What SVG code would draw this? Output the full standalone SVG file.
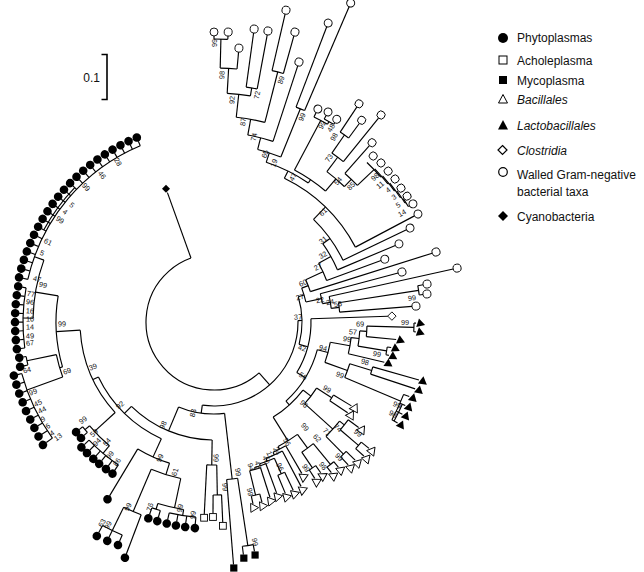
<svg xmlns="http://www.w3.org/2000/svg" width="644" height="572" viewBox="0 0 644 572">
<defs>
<style>
.c line,.c circle{fill:none;stroke:#000;stroke-width:1.15}
.l{font-family:"Liberation Sans",Arial,sans-serif;font-size:7.3px;text-anchor:middle;fill:#111}
.lg{font-family:"Liberation Sans",Arial,sans-serif;font-size:12px;fill:#111}
.it{font-style:italic}
</style>
<circle id="dot" r="4.3" fill="#000"/>
<circle id="oc" r="4" fill="#fff" stroke="#000" stroke-width="0.9"/>
<path id="ot" d="M0,-4.8L4.5,3.1L-4.5,3.1Z" fill="#fff" stroke="#000" stroke-width="0.9"/>
<path id="ft" d="M0,-4.8L4.5,3.1L-4.5,3.1Z" fill="#000"/>
<rect id="os" x="-3.4" y="-3.4" width="6.8" height="6.8" fill="#fff" stroke="#000" stroke-width="0.9"/>
<rect id="fs" x="-3.6" y="-3.6" width="7.2" height="7.2" fill="#000"/>
<path id="od" d="M0,-4.2L4.2,0L0,4.2L-4.2,0Z" fill="#fff" stroke="#000" stroke-width="0.9"/>
<path id="fd" d="M0,-4L4,0L0,4L-4,0Z" fill="#000"/>
</defs>
<rect width="644" height="572" fill="#fff"/>

<g id="connectors" class="c" transform="translate(214,322)">
<circle r="68" pathLength="360" stroke-dasharray="201.7 400" transform="rotate(48.5)"/>
<circle r="84" pathLength="360" stroke-dasharray="98.98 400" transform="rotate(-0.98)"/>
<circle r="92" pathLength="360" stroke-dasharray="29.25 400" transform="rotate(83.4)"/>
<circle r="158" pathLength="360" stroke-dasharray="4 400" transform="rotate(81.4)"/>
<circle r="226" pathLength="360" stroke-dasharray="2.8 400" transform="rotate(80)"/>
<circle r="118" pathLength="360" stroke-dasharray="43.5 400" transform="rotate(90.9)"/>
<circle r="143" pathLength="360" stroke-dasharray="4 400" transform="rotate(88.9)"/>
<circle r="173" pathLength="360" stroke-dasharray="2.8 400" transform="rotate(87.5)"/>
<circle r="128" pathLength="360" stroke-dasharray="40.25 400" transform="rotate(114.3)"/>
<circle r="148" pathLength="360" stroke-dasharray="13.5 400" transform="rotate(107.5)"/>
<circle r="160" pathLength="360" stroke-dasharray="11.1 400" transform="rotate(102)"/>
<circle r="190" pathLength="360" stroke-dasharray="8 400" transform="rotate(99.2)"/>
<circle r="196" pathLength="360" stroke-dasharray="2.6 400" transform="rotate(105.9)"/>
<circle r="196" pathLength="360" stroke-dasharray="7.9 400" transform="rotate(95.3)"/>
<circle r="206" pathLength="360" stroke-dasharray="5.3 400" transform="rotate(110.7)"/>
<circle r="232" pathLength="360" stroke-dasharray="5.4 400" transform="rotate(113.3)"/>
<circle r="134" pathLength="360" stroke-dasharray="39 400" transform="rotate(137.5)"/>
<circle r="162" pathLength="360" stroke-dasharray="9.95 400" transform="rotate(130.2)"/>
<circle r="168" pathLength="360" stroke-dasharray="2.5 400" transform="rotate(138.9)"/>
<circle r="172" pathLength="360" stroke-dasharray="12.8 400" transform="rotate(123.8)"/>
<circle r="158" pathLength="360" stroke-dasharray="26 400" transform="rotate(163.5)"/>
<circle r="161" pathLength="360" stroke-dasharray="8.3 400" transform="rotate(160)"/>
<circle r="191" pathLength="360" stroke-dasharray="2.6 400" transform="rotate(167)"/>
<circle r="199" pathLength="360" stroke-dasharray="20.7 400" transform="rotate(144.3)"/>
<circle r="181" pathLength="360" stroke-dasharray="18.8 400" transform="rotate(181.2)"/>
<circle r="191" pathLength="360" stroke-dasharray="18.13 400" transform="rotate(172.18)"/>
<circle r="191" pathLength="360" stroke-dasharray="54.39 400" transform="rotate(192.9)"/>
<circle r="193.5" pathLength="360" stroke-dasharray="15.54 400" transform="rotate(208.44)"/>
<circle r="88" pathLength="360" stroke-dasharray="31.45 400" transform="rotate(-16.7)"/>
<circle r="94" pathLength="360" stroke-dasharray="8.85 400" transform="rotate(-21.1)"/>
<circle r="101" pathLength="360" stroke-dasharray="7.25 400" transform="rotate(-24.75)"/>
<circle r="120" pathLength="360" stroke-dasharray="9.1 400" transform="rotate(-29.3)"/>
<circle r="134" pathLength="360" stroke-dasharray="12.85 400" transform="rotate(-35.75)"/>
<circle r="143" pathLength="360" stroke-dasharray="20.3 400" transform="rotate(-45.9)"/>
<circle r="160" pathLength="360" stroke-dasharray="36 400" transform="rotate(-63.9)"/>
<circle r="168" pathLength="360" stroke-dasharray="16.05 400" transform="rotate(-71.9)"/>
<circle r="178" pathLength="360" stroke-dasharray="7.85 400" transform="rotate(-75.8)"/>
<circle r="190" pathLength="360" stroke-dasharray="7.85 400" transform="rotate(-79.75)"/>
<circle r="206" pathLength="360" stroke-dasharray="8.1 400" transform="rotate(-83.8)"/>
<circle r="229" pathLength="360" stroke-dasharray="5.85 400" transform="rotate(-86.7)"/>
<circle r="254" pathLength="360" stroke-dasharray="3.8 400" transform="rotate(-88.6)"/>
<circle r="283" pathLength="360" stroke-dasharray="2.8 400" transform="rotate(-90)"/>
<circle r="237" pathLength="360" stroke-dasharray="2.7 400" transform="rotate(-82.2)"/>
<circle r="258" pathLength="360" stroke-dasharray="2.6 400" transform="rotate(-77)"/>
<circle r="230" pathLength="360" stroke-dasharray="2.3 400" transform="rotate(-69.1)"/>
<circle r="172" pathLength="360" stroke-dasharray="12.5 400" transform="rotate(-62.1)"/>
<circle r="228" pathLength="360" stroke-dasharray="3.85 400" transform="rotate(-64)"/>
<circle r="231" pathLength="360" stroke-dasharray="2.7 400" transform="rotate(-61.5)"/>
<circle r="188" pathLength="360" stroke-dasharray="7 400" transform="rotate(-53.1)"/>
<circle r="206" pathLength="360" stroke-dasharray="4 400" transform="rotate(-55.1)"/>
<circle r="228" pathLength="360" stroke-dasharray="2.6 400" transform="rotate(-56.4)"/>
<circle r="198" pathLength="360" stroke-dasharray="5 400" transform="rotate(-48.6)"/>
<circle r="221" pathLength="360" stroke-dasharray="5.2 400" transform="rotate(-46.2)"/>
<circle r="222" pathLength="360" stroke-dasharray="5.15 400" transform="rotate(-43.6)"/>
<circle r="223" pathLength="360" stroke-dasharray="4.9 400" transform="rotate(-40.9)"/>
<circle r="224" pathLength="360" stroke-dasharray="4.55 400" transform="rotate(-38.3)"/>
<circle r="225" pathLength="360" stroke-dasharray="3.7 400" transform="rotate(-35.6)"/>
<circle r="226" pathLength="360" stroke-dasharray="2.4 400" transform="rotate(-33.1)"/>
<circle r="110" pathLength="360" stroke-dasharray="5.3 400" transform="rotate(-14.9)"/>
<circle r="118" pathLength="360" stroke-dasharray="5.85 400" transform="rotate(-12.5)"/>
<circle r="126" pathLength="360" stroke-dasharray="4.3 400" transform="rotate(-8.8)"/>
<circle r="207" pathLength="360" stroke-dasharray="2.6 400" transform="rotate(-10.1)"/>
<circle r="97" pathLength="360" stroke-dasharray="33.3 400" transform="rotate(-1.9)"/>
<circle r="107" pathLength="360" stroke-dasharray="32.75 400" transform="rotate(15)"/>
<circle r="118" pathLength="360" stroke-dasharray="10.1 400" transform="rotate(9.9)"/>
<circle r="138" pathLength="360" stroke-dasharray="6.8 400" transform="rotate(6.5)"/>
<circle r="146" pathLength="360" stroke-dasharray="6 400" transform="rotate(3.5)"/>
<circle r="153" pathLength="360" stroke-dasharray="3.95 400" transform="rotate(1.55)"/>
<circle r="200" pathLength="360" stroke-dasharray="2.5 400" transform="rotate(0.3)"/>
<circle r="175" pathLength="360" stroke-dasharray="2.6 400" transform="rotate(8.2)"/>
<circle r="142" pathLength="360" stroke-dasharray="5.9 400" transform="rotate(17.1)"/>
<circle r="165" pathLength="360" stroke-dasharray="2.6 400" transform="rotate(15.8)"/>
<circle r="203" pathLength="360" stroke-dasharray="7.9 400" transform="rotate(20.9)"/>
<circle r="205.5" pathLength="360" stroke-dasharray="5.2 400" transform="rotate(23.6)"/>
<circle r="112" pathLength="360" stroke-dasharray="20.7 400" transform="rotate(37.4)"/>
<circle r="122" pathLength="360" stroke-dasharray="9.2 400" transform="rotate(32.8)"/>
<circle r="140" pathLength="360" stroke-dasharray="2.8 400" transform="rotate(31.4)"/>
<circle r="160" pathLength="360" stroke-dasharray="7.3 400" transform="rotate(38.3)"/>
<circle r="166" pathLength="360" stroke-dasharray="4.4 400" transform="rotate(36.1)"/>
<circle r="190" pathLength="360" stroke-dasharray="2.6 400" transform="rotate(39.2)"/>
<circle r="185" pathLength="360" stroke-dasharray="2.4 400" transform="rotate(44.4)"/>
<circle r="140" pathLength="360" stroke-dasharray="9.35 400" transform="rotate(53.4)"/>
<circle r="157" pathLength="360" stroke-dasharray="5.25 400" transform="rotate(50.75)"/>
<circle r="184" pathLength="360" stroke-dasharray="2.7 400" transform="rotate(49.4)"/>
<circle r="176" pathLength="360" stroke-dasharray="2.5 400" transform="rotate(54.7)"/>
<circle r="143" pathLength="360" stroke-dasharray="5.7 400" transform="rotate(59.9)"/>
<circle r="146" pathLength="360" stroke-dasharray="7 400" transform="rotate(62.1)"/>
<circle r="149" pathLength="360" stroke-dasharray="6.05 400" transform="rotate(66.1)"/>
<circle r="166" pathLength="360" stroke-dasharray="2.6 400" transform="rotate(64.8)"/>
<circle r="151" pathLength="360" stroke-dasharray="4.5 400" transform="rotate(69.9)"/>
<circle r="153" pathLength="360" stroke-dasharray="4.2 400" transform="rotate(72.3)"/>
<circle r="178" pathLength="360" stroke-dasharray="2.8 400" transform="rotate(75.1)"/>

<line x1="68" x2="137.5" transform="rotate(250.2)"/>
<line x1="68" x2="84" transform="rotate(48.5)"/>
<line x1="84" x2="88" transform="rotate(-0.98)"/>
<line x1="84" x2="92" transform="rotate(98)"/>
<line x1="92" x2="158" transform="rotate(83.4)"/>
<line x1="158" x2="243.3" transform="rotate(85.4)"/>
<line x1="158" x2="226" transform="rotate(81.4)"/>
<line x1="226" x2="234.5" transform="rotate(82.8)"/>
<line x1="226" x2="233" transform="rotate(80)"/>
<line x1="92" x2="118" transform="rotate(112.65)"/>
<line x1="118" x2="143" transform="rotate(90.9)"/>
<line x1="143" x2="192.5" transform="rotate(92.9)"/>
<line x1="143" x2="173" transform="rotate(88.9)"/>
<line x1="173" x2="191.5" transform="rotate(90.3)"/>
<line x1="173" x2="200.5" transform="rotate(87.5)"/>
<line x1="118" x2="128" transform="rotate(134.4)"/>
<line x1="128" x2="148" transform="rotate(114.3)"/>
<line x1="128" x2="134" transform="rotate(154.55)"/>
<line x1="148" x2="160" transform="rotate(107.5)"/>
<line x1="148" x2="202.8" transform="rotate(121)"/>
<line x1="160" x2="190" transform="rotate(102)"/>
<line x1="160" x2="206" transform="rotate(113.1)"/>
<line x1="190" x2="196" transform="rotate(107.2)"/>
<line x1="190" x2="196" transform="rotate(99.2)"/>
<line x1="196" x2="203" transform="rotate(108.5)"/>
<line x1="196" x2="203" transform="rotate(105.9)"/>
<line x1="196" x2="203" transform="rotate(103.2)"/>
<line x1="196" x2="203" transform="rotate(100.6)"/>
<line x1="196" x2="203" transform="rotate(98)"/>
<line x1="196" x2="203" transform="rotate(95.3)"/>
<line x1="206" x2="248" transform="rotate(110.7)"/>
<line x1="206" x2="232" transform="rotate(116)"/>
<line x1="232" x2="238.8" transform="rotate(113.3)"/>
<line x1="232" x2="239.5" transform="rotate(116)"/>
<line x1="232" x2="240" transform="rotate(118.7)"/>
<line x1="134" x2="162" transform="rotate(137.5)"/>
<line x1="134" x2="158" transform="rotate(176.5)"/>
<line x1="162" x2="168" transform="rotate(140.15)"/>
<line x1="162" x2="172" transform="rotate(130.2)"/>
<line x1="168" x2="172.5" transform="rotate(138.9)"/>
<line x1="168" x2="172.5" transform="rotate(141.4)"/>
<line x1="172" x2="178.5" transform="rotate(123.8)"/>
<line x1="172" x2="178.5" transform="rotate(126.3)"/>
<line x1="172" x2="178.5" transform="rotate(129)"/>
<line x1="172" x2="178.5" transform="rotate(131.4)"/>
<line x1="172" x2="178.5" transform="rotate(134.1)"/>
<line x1="172" x2="178.5" transform="rotate(136.6)"/>
<line x1="158" x2="161" transform="rotate(163.5)"/>
<line x1="158" x2="181" transform="rotate(189.5)"/>
<line x1="161" x2="199" transform="rotate(160)"/>
<line x1="161" x2="191" transform="rotate(168.3)"/>
<line x1="191" x2="195" transform="rotate(167)"/>
<line x1="191" x2="194" transform="rotate(169.6)"/>
<line x1="199" x2="206.5" transform="rotate(144.3)"/>
<line x1="199" x2="205.5" transform="rotate(146.89)"/>
<line x1="199" x2="204.5" transform="rotate(149.48)"/>
<line x1="199" x2="204" transform="rotate(152.06)"/>
<line x1="199" x2="204" transform="rotate(154.65)"/>
<line x1="199" x2="203.5" transform="rotate(157.24)"/>
<line x1="199" x2="203.5" transform="rotate(159.83)"/>
<line x1="199" x2="203.3" transform="rotate(162.41)"/>
<line x1="199" x2="203.2" transform="rotate(165)"/>
<line x1="181" x2="191" transform="rotate(181.2)"/>
<line x1="181" x2="191" transform="rotate(200)"/>
<line x1="191" x2="195" transform="rotate(172.18)"/>
<line x1="191" x2="195" transform="rotate(174.77)"/>
<line x1="191" x2="195" transform="rotate(177.36)"/>
<line x1="191" x2="195" transform="rotate(179.95)"/>
<line x1="191" x2="195" transform="rotate(182.54)"/>
<line x1="191" x2="195" transform="rotate(185.13)"/>
<line x1="191" x2="195" transform="rotate(187.72)"/>
<line x1="191" x2="195" transform="rotate(190.31)"/>
<line x1="191" x2="196" transform="rotate(192.9)"/>
<line x1="191" x2="196" transform="rotate(195.49)"/>
<line x1="191" x2="196" transform="rotate(198.08)"/>
<line x1="191" x2="196" transform="rotate(200.67)"/>
<line x1="191" x2="196" transform="rotate(203.26)"/>
<line x1="191" x2="196" transform="rotate(205.85)"/>
<line x1="191" x2="196" transform="rotate(208.44)"/>
<line x1="191" x2="196" transform="rotate(211.03)"/>
<line x1="191" x2="196" transform="rotate(213.62)"/>
<line x1="191" x2="196" transform="rotate(216.21)"/>
<line x1="191" x2="196" transform="rotate(218.8)"/>
<line x1="191" x2="196" transform="rotate(221.39)"/>
<line x1="191" x2="196" transform="rotate(223.98)"/>
<line x1="191" x2="196" transform="rotate(226.57)"/>
<line x1="191" x2="196" transform="rotate(229.16)"/>
<line x1="191" x2="196" transform="rotate(231.75)"/>
<line x1="191" x2="196" transform="rotate(234.34)"/>
<line x1="191" x2="196" transform="rotate(236.93)"/>
<line x1="191" x2="196" transform="rotate(239.52)"/>
<line x1="191" x2="196" transform="rotate(242.11)"/>
<line x1="191" x2="196" transform="rotate(244.7)"/>
<line x1="191" x2="196" transform="rotate(247.29)"/>

<line x1="88" x2="94" transform="rotate(-16.7)"/>
<line x1="88" x2="97" transform="rotate(14.75)"/>
<line x1="94" x2="101" transform="rotate(-21.1)"/>
<line x1="94" x2="110" transform="rotate(-12.25)"/>
<line x1="101" x2="120" transform="rotate(-24.75)"/>
<line x1="101" x2="228.8" transform="rotate(-17.5)"/>
<line x1="120" x2="134" transform="rotate(-29.3)"/>
<line x1="120" x2="178" transform="rotate(-20.2)"/>
<line x1="134" x2="143" transform="rotate(-35.75)"/>
<line x1="134" x2="196.8" transform="rotate(-22.9)"/>
<line x1="143" x2="160" transform="rotate(-45.9)"/>
<line x1="143" x2="213.4" transform="rotate(-25.6)"/>
<line x1="160" x2="168" transform="rotate(-63.9)"/>
<line x1="160" x2="226.8" transform="rotate(-27.9)"/>
<line x1="168" x2="178" transform="rotate(-71.9)"/>
<line x1="168" x2="172" transform="rotate(-55.85)"/>
<line x1="178" x2="190" transform="rotate(-75.8)"/>
<line x1="178" x2="230" transform="rotate(-67.95)"/>
<line x1="190" x2="206" transform="rotate(-79.75)"/>
<line x1="190" x2="269.5" transform="rotate(-71.9)"/>
<line x1="206" x2="229" transform="rotate(-83.8)"/>
<line x1="206" x2="258" transform="rotate(-75.7)"/>
<line x1="229" x2="254" transform="rotate(-86.7)"/>
<line x1="229" x2="237" transform="rotate(-80.85)"/>
<line x1="254" x2="283" transform="rotate(-88.6)"/>
<line x1="254" x2="271" transform="rotate(-84.8)"/>
<line x1="283" x2="286" transform="rotate(-90)"/>
<line x1="283" x2="286.3" transform="rotate(-87.2)"/>
<line x1="237" x2="291.7" transform="rotate(-82.2)"/>
<line x1="237" x2="292" transform="rotate(-79.5)"/>
<line x1="258" x2="316" transform="rotate(-77)"/>
<line x1="258" x2="297" transform="rotate(-74.4)"/>
<line x1="230" x2="316" transform="rotate(-69.1)"/>
<line x1="230" x2="343" transform="rotate(-66.8)"/>
<line x1="172" x2="228" transform="rotate(-62.1)"/>
<line x1="172" x2="188" transform="rotate(-49.6)"/>
<line x1="228" x2="233" transform="rotate(-64)"/>
<line x1="228" x2="231" transform="rotate(-60.15)"/>
<line x1="231" x2="235" transform="rotate(-61.5)"/>
<line x1="231" x2="233" transform="rotate(-58.8)"/>
<line x1="188" x2="206" transform="rotate(-53.1)"/>
<line x1="188" x2="198" transform="rotate(-46.1)"/>
<line x1="206" x2="228" transform="rotate(-55.1)"/>
<line x1="206" x2="262" transform="rotate(-51.1)"/>
<line x1="228" x2="258" transform="rotate(-56.4)"/>
<line x1="228" x2="246" transform="rotate(-53.8)"/>
<line x1="198" x2="235" transform="rotate(-48.6)"/>
<line x1="198" x2="221" transform="rotate(-43.6)"/>
<line x1="221" x2="222" transform="rotate(-41)"/>
<line x1="222" x2="223" transform="rotate(-38.45)"/>
<line x1="223" x2="224" transform="rotate(-36)"/>
<line x1="224" x2="225" transform="rotate(-33.75)"/>
<line x1="225" x2="226" transform="rotate(-31.9)"/>
<line x1="226" x2="227.4" transform="rotate(-30.7)"/>
<line x1="110" x2="190.5" transform="rotate(-14.9)"/>
<line x1="110" x2="118" transform="rotate(-9.6)"/>
<line x1="118" x2="245" transform="rotate(-12.5)"/>
<line x1="118" x2="126" transform="rotate(-6.65)"/>
<line x1="126" x2="207" transform="rotate(-8.8)"/>
<line x1="126" x2="198.6" transform="rotate(-4.5)"/>
<line x1="207" x2="212.4" transform="rotate(-10.1)"/>
<line x1="207" x2="210.8" transform="rotate(-7.5)"/>

<line x1="97" x2="174" transform="rotate(-1.9)"/>
<line x1="97" x2="107" transform="rotate(31.4)"/>
<line x1="107" x2="118" transform="rotate(15)"/>
<line x1="107" x2="112" transform="rotate(47.75)"/>
<line x1="118" x2="138" transform="rotate(9.9)"/>
<line x1="118" x2="142" transform="rotate(20)"/>
<line x1="138" x2="146" transform="rotate(6.5)"/>
<line x1="138" x2="175" transform="rotate(13.3)"/>
<line x1="146" x2="153" transform="rotate(3.5)"/>
<line x1="146" x2="175" transform="rotate(9.5)"/>
<line x1="153" x2="200" transform="rotate(1.55)"/>
<line x1="153" x2="183" transform="rotate(5.5)"/>
<line x1="200" x2="202" transform="rotate(0.3)"/>
<line x1="200" x2="202" transform="rotate(2.8)"/>
<line x1="175" x2="179" transform="rotate(8.2)"/>
<line x1="175" x2="178" transform="rotate(10.8)"/>
<line x1="142" x2="165" transform="rotate(17.1)"/>
<line x1="142" x2="203" transform="rotate(23)"/>
<line x1="165" x2="213" transform="rotate(15.8)"/>
<line x1="165" x2="212" transform="rotate(18.4)"/>
<line x1="203" x2="209" transform="rotate(20.9)"/>
<line x1="203" x2="208.7" transform="rotate(23.6)"/>
<line x1="203" x2="209.8" transform="rotate(26.1)"/>
<line x1="203" x2="209.5" transform="rotate(28.8)"/>
<line x1="112" x2="122" transform="rotate(37.4)"/>
<line x1="112" x2="140" transform="rotate(58.1)"/>
<line x1="122" x2="140" transform="rotate(32.8)"/>
<line x1="122" x2="160" transform="rotate(42)"/>
<line x1="140" x2="161" transform="rotate(31.4)"/>
<line x1="140" x2="161.6" transform="rotate(34.2)"/>
<line x1="160" x2="166" transform="rotate(38.3)"/>
<line x1="160" x2="185" transform="rotate(45.6)"/>
<line x1="166" x2="179" transform="rotate(36.1)"/>
<line x1="166" x2="190" transform="rotate(40.5)"/>
<line x1="190" x2="200" transform="rotate(39.2)"/>
<line x1="190" x2="201" transform="rotate(41.8)"/>
<line x1="185" x2="197.5" transform="rotate(44.4)"/>
<line x1="185" x2="196" transform="rotate(46.8)"/>
<line x1="140" x2="157" transform="rotate(53.4)"/>
<line x1="140" x2="143" transform="rotate(62.75)"/>
<line x1="157" x2="184" transform="rotate(50.75)"/>
<line x1="157" x2="176" transform="rotate(56)"/>
<line x1="184" x2="191" transform="rotate(49.4)"/>
<line x1="184" x2="191" transform="rotate(52.1)"/>
<line x1="176" x2="184.7" transform="rotate(54.7)"/>
<line x1="176" x2="186" transform="rotate(57.2)"/>
<line x1="143" x2="175" transform="rotate(59.9)"/>
<line x1="143" x2="146" transform="rotate(65.6)"/>
<line x1="146" x2="186" transform="rotate(62.1)"/>
<line x1="146" x2="149" transform="rotate(69.1)"/>
<line x1="149" x2="166" transform="rotate(66.1)"/>
<line x1="149" x2="151" transform="rotate(72.15)"/>
<line x1="166" x2="186" transform="rotate(64.8)"/>
<line x1="166" x2="185.6" transform="rotate(67.4)"/>
<line x1="151" x2="182" transform="rotate(69.9)"/>
<line x1="151" x2="153" transform="rotate(74.4)"/>
<line x1="153" x2="184" transform="rotate(72.3)"/>
<line x1="153" x2="178" transform="rotate(76.5)"/>
<line x1="178" x2="186.4" transform="rotate(75.1)"/>
<line x1="178" x2="186" transform="rotate(77.9)"/>
</g>

<g id="leaves" transform="translate(214,322)">
<g id="cyanobacteria"><use id="cy1" href="#fd" transform="rotate(250.2) translate(141.7) rotate(-250.2)"/></g>
<g id="gram-negative">
<use id="g1" href="#oc" transform="rotate(-90) translate(290)"/>
<use id="g2" href="#oc" transform="rotate(-87.2) translate(290.3)"/>
<use id="g3" href="#oc" transform="rotate(-84.8) translate(275)"/>
<use id="g4" href="#oc" transform="rotate(-82.2) translate(295.7)"/>
<use id="g5" href="#oc" transform="rotate(-79.5) translate(296)"/>
<use id="g6" href="#oc" transform="rotate(-77) translate(320)"/>
<use id="g7" href="#oc" transform="rotate(-74.4) translate(301)"/>
<use id="g8" href="#oc" transform="rotate(-71.9) translate(273.5)"/>
<use id="g9" href="#oc" transform="rotate(-69.1) translate(320)"/>
<use id="g10" href="#oc" transform="rotate(-66.8) translate(347)"/>
<use id="g11" href="#oc" transform="rotate(-64) translate(237)"/>
<use id="g12" href="#oc" transform="rotate(-61.5) translate(239)"/>
<use id="g13" href="#oc" transform="rotate(-58.8) translate(237)"/>
<use id="g14" href="#oc" transform="rotate(-56.4) translate(262)"/>
<use id="g15" href="#oc" transform="rotate(-53.8) translate(250)"/>
<use id="g16" href="#oc" transform="rotate(-51.1) translate(266)"/>
<use id="g17" href="#oc" transform="rotate(-48.6) translate(239)"/>
<use id="g18" href="#oc" transform="rotate(-46.2) translate(230)"/>
<use id="g19" href="#oc" transform="rotate(-43.6) translate(230.6)"/>
<use id="g20" href="#oc" transform="rotate(-40.9) translate(230.4)"/>
<use id="g21" href="#oc" transform="rotate(-38.3) translate(230.7)"/>
<use id="g22" href="#oc" transform="rotate(-35.6) translate(230)"/>
<use id="g23" href="#oc" transform="rotate(-33.1) translate(230.5)"/>
<use id="g24" href="#oc" transform="rotate(-30.7) translate(231.4)"/>
<use id="g25" href="#oc" transform="rotate(-27.9) translate(230.8)"/>
<use id="g26" href="#oc" transform="rotate(-25.6) translate(217.4)"/>
<use id="g27" href="#oc" transform="rotate(-22.9) translate(200.8)"/>
<use id="g28" href="#oc" transform="rotate(-20.2) translate(182)"/>
<use id="g29" href="#oc" transform="rotate(-17.5) translate(232.8)"/>
<use id="g30" href="#oc" transform="rotate(-14.9) translate(194.5)"/>
<use id="g31" href="#oc" transform="rotate(-12.5) translate(249)"/>
<use id="g32" href="#oc" transform="rotate(-10.1) translate(216.4)"/>
<use id="g33" href="#oc" transform="rotate(-7.5) translate(214.8)"/>
<use id="g34" href="#oc" transform="rotate(-4.5) translate(202.6)"/>
</g>
<g id="clostridia"><use id="cl1" href="#od" transform="rotate(-1.9) translate(178) rotate(1.9)"/></g>
<g id="lactobacillales">
<use id="l1" href="#ft" transform="rotate(0.3) translate(206) rotate(-12.9)"/>
<use id="l2" href="#ft" transform="rotate(2.8) translate(206) rotate(-12.2)"/>
<use id="l3" href="#ft" transform="rotate(5.5) translate(187) rotate(-11.4)"/>
<use id="l4" href="#ft" transform="rotate(8.2) translate(183) rotate(-10.5)"/>
<use id="l5" href="#ft" transform="rotate(10.8) translate(182) rotate(-9.8)"/>
<use id="l6" href="#ft" transform="rotate(13.3) translate(179) rotate(-9)"/>
<use id="l7" href="#ft" transform="rotate(15.8) translate(217) rotate(-8.3)"/>
<use id="l8" href="#ft" transform="rotate(18.4) translate(216) rotate(-7.5)"/>
<use id="l9" href="#ft" transform="rotate(20.9) translate(213) rotate(-6.7)"/>
<use id="l10" href="#ft" transform="rotate(23.6) translate(212.7) rotate(-5.9)"/>
<use id="l11" href="#ft" transform="rotate(26.1) translate(213.8) rotate(-5.2)"/>
<use id="l12" href="#ft" transform="rotate(28.8) translate(213.5) rotate(-4.4)"/>
</g>
<g id="bacillales">
<use id="b19" href="#ot" transform="rotate(31.4) translate(165) rotate(-3.6)"/>
<use id="b18" href="#ot" transform="rotate(34.2) translate(165.6) rotate(-2.7)"/>
<use id="b17" href="#ot" transform="rotate(36.1) translate(183) rotate(-2.2)"/>
<use id="b16" href="#ot" transform="rotate(39.2) translate(204) rotate(-1.2)"/>
<use id="b15" href="#ot" transform="rotate(41.8) translate(205) rotate(-0.5)"/>
<use id="b14" href="#ot" transform="rotate(44.4) translate(201.5) rotate(0.3)"/>
<use id="b13" href="#ot" transform="rotate(46.8) translate(200) rotate(1)"/>
<use id="b12" href="#ot" transform="rotate(49.4) translate(195) rotate(1.8)"/>
<use id="b11" href="#ot" transform="rotate(52.1) translate(195) rotate(2.6)"/>
<use id="b10" href="#ot" transform="rotate(54.7) translate(188.7) rotate(3.4)"/>
<use id="b9" href="#ot" transform="rotate(57.2) translate(190) rotate(4.2)"/>
<use id="b8" href="#ot" transform="rotate(59.9) translate(179) rotate(5)"/>
<use id="b7" href="#ot" transform="rotate(62.1) translate(190) rotate(5.6)"/>
<use id="b6" href="#ot" transform="rotate(64.8) translate(190) rotate(6.4)"/>
<use id="b5" href="#ot" transform="rotate(67.4) translate(189.6) rotate(7.2)"/>
<use id="b4" href="#ot" transform="rotate(69.9) translate(186) rotate(8)"/>
<use id="b3" href="#ot" transform="rotate(72.3) translate(188) rotate(8.7)"/>
<use id="b2" href="#ot" transform="rotate(75.1) translate(190.4) rotate(9.5)"/>
<use id="b1" href="#ot" transform="rotate(77.9) translate(190) rotate(10.4)"/>
</g>
<g id="mycoplasma">
<use id="m3" href="#fs" transform="rotate(80) translate(236.6) rotate(-80)"/>
<use id="m2" href="#fs" transform="rotate(82.8) translate(238) rotate(-82.8)"/>
<use id="m1" href="#fs" transform="rotate(85.4) translate(246.8) rotate(-85.4)"/>
</g>
<g id="acholeplasma">
<use id="a3" href="#os" transform="rotate(87.5) translate(204) rotate(-87.5)"/>
<use id="a2" href="#os" transform="rotate(90.3) translate(195) rotate(-90.3)"/>
<use id="a1" href="#os" transform="rotate(92.9) translate(196) rotate(-92.9)"/>
</g>
<g id="phytoplasmas">
<use href="#dot" transform="rotate(95.3) translate(207)"/>
<use href="#dot" transform="rotate(98) translate(207)"/>
<use href="#dot" transform="rotate(100.6) translate(207)"/>
<use href="#dot" transform="rotate(103.2) translate(207)"/>
<use href="#dot" transform="rotate(105.9) translate(207)"/>
<use href="#dot" transform="rotate(108.5) translate(207)"/>
<use href="#dot" transform="rotate(110.7) translate(252)"/>
<use href="#dot" transform="rotate(113.3) translate(242.8)"/>
<use href="#dot" transform="rotate(116) translate(243.5)"/>
<use href="#dot" transform="rotate(118.7) translate(244)"/>
<use href="#dot" transform="rotate(121) translate(206.8)"/>
<use href="#dot" transform="rotate(123.8) translate(182.5)"/>
<use href="#dot" transform="rotate(126.3) translate(182.5)"/>
<use href="#dot" transform="rotate(129) translate(182.5)"/>
<use href="#dot" transform="rotate(131.4) translate(182.5)"/>
<use href="#dot" transform="rotate(134.1) translate(182.5)"/>
<use href="#dot" transform="rotate(136.6) translate(182.5)"/>
<use href="#dot" transform="rotate(138.9) translate(176.5)"/>
<use href="#dot" transform="rotate(141.4) translate(176.5)"/>
<use href="#dot" transform="rotate(144.3) translate(210.6)"/>
<use href="#dot" transform="rotate(146.89) translate(209.5)"/>
<use href="#dot" transform="rotate(149.48) translate(208.5)"/>
<use href="#dot" transform="rotate(152.06) translate(208)"/>
<use href="#dot" transform="rotate(154.65) translate(208)"/>
<use href="#dot" transform="rotate(157.24) translate(207.5)"/>
<use href="#dot" transform="rotate(159.83) translate(207.5)"/>
<use href="#dot" transform="rotate(162.41) translate(207.3)"/>
<use href="#dot" transform="rotate(165) translate(207.2)"/>
<use href="#dot" transform="rotate(167) translate(199)"/>
<use href="#dot" transform="rotate(169.6) translate(198)"/>
<use href="#dot" transform="rotate(172.18) translate(199)"/>
<use href="#dot" transform="rotate(174.77) translate(199)"/>
<use href="#dot" transform="rotate(177.36) translate(199)"/>
<use href="#dot" transform="rotate(179.95) translate(199)"/>
<use href="#dot" transform="rotate(182.54) translate(199)"/>
<use href="#dot" transform="rotate(185.13) translate(199)"/>
<use href="#dot" transform="rotate(187.72) translate(199)"/>
<use href="#dot" transform="rotate(190.31) translate(199)"/>
<use href="#dot" transform="rotate(192.9) translate(200)"/>
<use href="#dot" transform="rotate(195.49) translate(200)"/>
<use href="#dot" transform="rotate(198.08) translate(200)"/>
<use href="#dot" transform="rotate(200.67) translate(200)"/>
<use href="#dot" transform="rotate(203.26) translate(200)"/>
<use href="#dot" transform="rotate(205.85) translate(200)"/>
<use href="#dot" transform="rotate(208.44) translate(200)"/>
<use href="#dot" transform="rotate(211.03) translate(200)"/>
<use href="#dot" transform="rotate(213.62) translate(200)"/>
<use href="#dot" transform="rotate(216.21) translate(200)"/>
<use href="#dot" transform="rotate(218.8) translate(200)"/>
<use href="#dot" transform="rotate(221.39) translate(200)"/>
<use href="#dot" transform="rotate(223.98) translate(200)"/>
<use href="#dot" transform="rotate(226.57) translate(200)"/>
<use href="#dot" transform="rotate(229.16) translate(200)"/>
<use href="#dot" transform="rotate(231.75) translate(200)"/>
<use href="#dot" transform="rotate(234.34) translate(200)"/>
<use href="#dot" transform="rotate(236.93) translate(200)"/>
<use href="#dot" transform="rotate(239.52) translate(200)"/>
<use href="#dot" transform="rotate(242.11) translate(200)"/>
<use href="#dot" transform="rotate(244.7) translate(200)"/>
<use href="#dot" transform="rotate(247.29) translate(200)"/>
</g>
</g>

<g id="bootstrap-labels" class="l">
<text transform="translate(214,43) rotate(-90)" dy="2.5">99</text>
<text transform="translate(222,75) rotate(-88)" dy="2.5">98</text>
<text transform="translate(232,100) rotate(-85)" dy="2.5">92</text>
<text transform="translate(257,95) rotate(-79)" dy="2.5">72</text>
<text transform="translate(243,122) rotate(-82)" dy="2.5">87</text>
<text transform="translate(254,137) rotate(-78)" dy="2.5">74</text>
<text transform="translate(265,154) rotate(-73)" dy="2.5">65</text>
<text transform="translate(274,163) rotate(-69)" dy="2.5">19</text>
<text transform="translate(281,80) rotate(-74.5)" dy="2.5">89</text>
<text transform="translate(302,117) rotate(-67)" dy="2.5">99</text>
<text transform="translate(293,177) rotate(-61)" dy="2.5">47</text>
<text transform="translate(322,125) rotate(-61)" dy="2.5">99</text>
<text transform="translate(331,128) rotate(-59)" dy="2.5">48</text>
<text transform="translate(334,137) rotate(-57)" dy="2.5">98</text>
<text transform="translate(329,158) rotate(-55)" dy="2.5">73</text>
<text transform="translate(338,181) rotate(-49)" dy="2.5">54</text>
<text transform="translate(351,186) rotate(-45)" dy="2.5">85</text>
<text transform="translate(375,177) rotate(-42)" dy="2.5">98</text>
<text transform="translate(380,185) rotate(-39.5)" dy="2.5">11</text>
<text transform="translate(388,190) rotate(-37)" dy="2.5">4</text>
<text transform="translate(394,197) rotate(-35)" dy="2.5">3</text>
<text transform="translate(398,205) rotate(-32.5)" dy="2.5">5</text>
<text transform="translate(402,213) rotate(-30)" dy="2.5">14</text>
<text transform="translate(323,212) rotate(-45)" dy="2.5">61</text>
<text transform="translate(323,240) rotate(-37)" dy="2.5">31</text>
<text transform="translate(323,255) rotate(-31.6)" dy="2.5">32</text>
<text transform="translate(318,267) rotate(-28)" dy="2.5">27</text>
<text transform="translate(303,283) rotate(-24)" dy="2.5">60</text>
<text transform="translate(300,297) rotate(-16)" dy="2.5">27</text>
<text transform="translate(320,300) rotate(-12)" dy="2.5">22</text>
<text transform="translate(330,302) rotate(-10)" dy="2.5">24</text>
<text transform="translate(338,304) rotate(-8)" dy="2.5">55</text>
<text transform="translate(412,298) rotate(-7)" dy="2.5">99</text>
<text transform="translate(298,317) rotate(-3)" dy="2.5">37</text>
<text transform="translate(302,348) rotate(16.5)" dy="2.5">42</text>
<text transform="translate(303,376) rotate(31)" dy="2.5">56</text>
<text transform="translate(323,348) rotate(13)" dy="2.5">94</text>
<text transform="translate(360,324) rotate(1)" dy="2.5">69</text>
<text transform="translate(353,332) rotate(4)" dy="2.5">57</text>
<text transform="translate(347,339) rotate(7)" dy="2.5">99</text>
<text transform="translate(377,354) rotate(11)" dy="2.5">99</text>
<text transform="translate(365,362) rotate(15)" dy="2.5">98</text>
<text transform="translate(405,322) rotate(0)" dy="2.5">99</text>
<text transform="translate(340,375) rotate(23)" dy="2.5">99</text>
<text transform="translate(397,405) rotate(25)" dy="2.5">99</text>
<text transform="translate(393,414) rotate(27.6)" dy="2.5">98</text>
<text transform="translate(327,389) rotate(31)" dy="2.5">99</text>
<text transform="translate(304,404) rotate(42)" dy="2.5">96</text>
<text transform="translate(305,427) rotate(49)" dy="2.5">99</text>
<text transform="translate(338,428) rotate(40.5)" dy="2.5">74</text>
<text transform="translate(327,432) rotate(44)" dy="2.5">71</text>
<text transform="translate(358,433) rotate(37.6)" dy="2.5">99</text>
<text transform="translate(317,438) rotate(48)" dy="2.5">62</text>
<text transform="translate(287,442) rotate(59)" dy="2.5">56</text>
<text transform="translate(277,451) rotate(64)" dy="2.5">24</text>
<text transform="translate(270,455) rotate(67)" dy="2.5">11</text>
<text transform="translate(339,457) rotate(47)" dy="2.5">99</text>
<text transform="translate(323,466) rotate(53)" dy="2.5">98</text>
<text transform="translate(306,468) rotate(58)" dy="2.5">99</text>
<text transform="translate(280,467) rotate(65.5)" dy="2.5">96</text>
<text transform="translate(266,460) rotate(69)" dy="2.5">40</text>
<text transform="translate(258,465) rotate(73)" dy="2.5">42</text>
<text transform="translate(251,467) rotate(76)" dy="2.5">94</text>
<text transform="translate(250,492) rotate(78)" dy="2.5">99</text>
<text transform="translate(238,472) rotate(81)" dy="2.5">99</text>
<text transform="translate(255,542) rotate(79)" dy="2.5">99</text>
<text transform="translate(216,458) rotate(89)" dy="2.5">99</text>
<text transform="translate(225,487) rotate(86)" dy="2.5">99</text>
<text transform="translate(193,413) rotate(-77)" dy="2.5">83</text>
<text transform="translate(163,425) rotate(-64)" dy="2.5">98</text>
<text transform="translate(160,458) rotate(-68)" dy="2.5">99</text>
<text transform="translate(175,472) rotate(-75)" dy="2.5">61</text>
<text transform="translate(128,507) rotate(-65)" dy="2.5">99</text>
<text transform="translate(102,523) rotate(-61)" dy="2.5">63</text>
<text transform="translate(108,525) rotate(-62)" dy="2.5">99</text>
<text transform="translate(150,507) rotate(-71)" dy="2.5">76</text>
<text transform="translate(180,508) rotate(-80)" dy="2.5">99</text>
<text transform="translate(193,515) rotate(-84)" dy="2.5">99</text>
<text transform="translate(120,405) rotate(-41)" dy="2.5">92</text>
<text transform="translate(93,367) rotate(-20)" dy="2.5">39</text>
<text transform="translate(62,324) rotate(-1)" dy="2.5">99</text>
<text transform="translate(67,371) rotate(-18)" dy="2.5">69</text>
<text transform="translate(83,420) rotate(-37)" dy="2.5">99</text>
<text transform="translate(94,433) rotate(-43)" dy="2.5">59</text>
<text transform="translate(97,442) rotate(-46)" dy="2.5">94</text>
<text transform="translate(107,442) rotate(-48)" dy="2.5">54</text>
<text transform="translate(110,455) rotate(-52)" dy="2.5">99</text>
<text transform="translate(117,462) rotate(-55)" dy="2.5">86</text>
<text transform="translate(27,370) rotate(-14)" dy="2.5">64</text>
<text transform="translate(33,392) rotate(-21)" dy="2.5">99</text>
<text transform="translate(38,403) rotate(-25)" dy="2.5">45</text>
<text transform="translate(42,410) rotate(-27)" dy="2.5">44</text>
<text transform="translate(43,419) rotate(-30)" dy="2.5">9</text>
<text transform="translate(48,426) rotate(-32)" dy="2.5">6</text>
<text transform="translate(52,433) rotate(-34)" dy="2.5">4</text>
<text transform="translate(58,437) rotate(-36)" dy="2.5">13</text>
<text transform="translate(37,279) rotate(14)" dy="2.5">47</text>
<text transform="translate(43,285) rotate(12)" dy="2.5">99</text>
<text transform="translate(31,294) rotate(9)" dy="2.5">77</text>
<text transform="translate(30,302) rotate(6)" dy="2.5">96</text>
<text transform="translate(30,311) rotate(3)" dy="2.5">16</text>
<text transform="translate(30,319) rotate(1)" dy="2.5">10</text>
<text transform="translate(30,327) rotate(-1.5)" dy="2.5">14</text>
<text transform="translate(30,336) rotate(-4)" dy="2.5">49</text>
<text transform="translate(30,343) rotate(-6.5)" dy="2.5">67</text>
<text transform="translate(118,162) rotate(59)" dy="2.5">28</text>
<text transform="translate(102,175) rotate(53)" dy="2.5">46</text>
<text transform="translate(86,187) rotate(46.5)" dy="2.5">99</text>
<text transform="translate(72,205) rotate(39.5)" dy="2.5">5</text>
<text transform="translate(65,212) rotate(36)" dy="2.5">4</text>
<text transform="translate(60,220) rotate(33.5)" dy="2.5">99</text>
<text transform="translate(48,242) rotate(26)" dy="2.5">61</text>
<text transform="translate(42,253) rotate(22)" dy="2.5">5</text>
</g>

<g id="scale-bar">
<path d="M101.5,54.5H107V99.5H101.5" fill="none" stroke="#000" stroke-width="1.6"/>
<text class="lg" x="100" y="81.5" text-anchor="end">0.1</text>
</g>

<g id="legend">
<g id="leg-phyto"><circle cx="503" cy="38" r="5" fill="#000"/><text class="lg" x="517" y="42">Phytoplasmas</text></g>
<g id="leg-achole"><rect x="499" y="56" width="8" height="8" fill="#fff" stroke="#000"/><text class="lg" x="517" y="65">Acholeplasma</text></g>
<g id="leg-myco"><rect x="499" y="76" width="8" height="8" fill="#000"/><text class="lg" x="517" y="84.5">Mycoplasma</text></g>
<g id="leg-bacil"><path d="M503,94.5L507.5,103L498.5,103Z" fill="#fff" stroke="#000"/><text class="lg it" x="517" y="103.5">Bacillales</text></g>
<g id="leg-lacto"><path d="M503,120L508,129.5L498,129.5Z" fill="#000"/><text class="lg it" x="517" y="130">Lactobacillales</text></g>
<g id="leg-clost"><path d="M502.5,145.5L507,150L502.5,154.5L498,150Z" fill="#fff" stroke="#000" stroke-width="1.2"/><text class="lg it" x="517" y="155">Clostridia</text></g>
<g id="leg-gramneg"><circle cx="503" cy="172" r="4.3" fill="#fff" stroke="#000" stroke-width="1.2"/><text class="lg" x="517" y="178.5">Walled Gram-negative</text><text class="lg" x="517" y="195.5">bacterial taxa</text></g>
<g id="leg-cyano"><path d="M503,211L508,216L503,221L498,216Z" fill="#000"/><text class="lg" x="517" y="220.5">Cyanobacteria</text></g>
</g>
</svg>
